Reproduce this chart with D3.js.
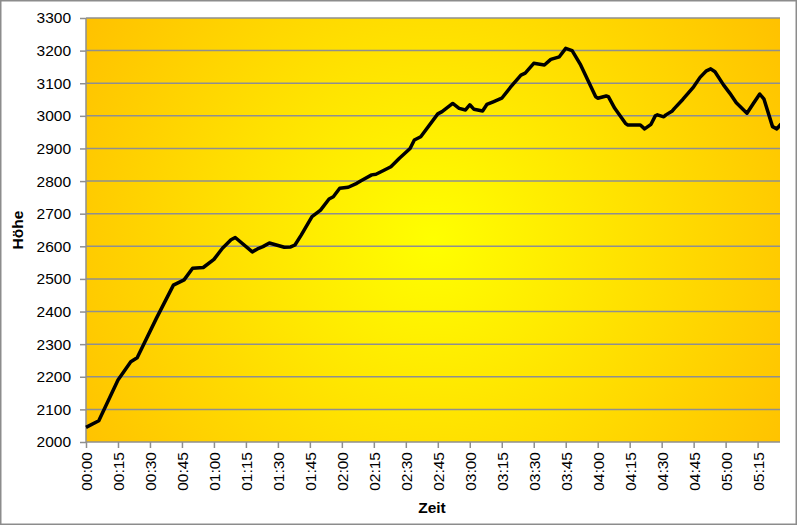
<!DOCTYPE html>
<html>
<head>
<meta charset="utf-8">
<script src="https://cdn.jsdelivr.net/npm/d3@7"></script>
<style>
  body { margin: 0; background: #fff; }
  svg { display: block; font-family: "Liberation Sans", Arial, sans-serif; }
</style>
</head>
<body>
<svg width="799" height="526"></svg>
<script>
// elevation track: minutes since start and height in metres
var minutes = [0, 6, 15, 21, 24, 33, 41, 46, 50, 55, 60, 64, 68, 70, 78, 81, 83, 86, 93, 96,
  98, 101, 106, 110, 114, 116, 119, 123, 127, 129, 134, 136, 140, 143, 147, 152, 154, 157, 165, 167,
  172, 175, 178, 180, 182, 186, 188, 191, 195, 199, 204, 206, 210, 215, 218, 222, 225, 228, 232, 239,
  240, 244, 245, 248, 253, 254, 260, 262, 265, 267, 268, 271, 272, 275, 276, 280, 285, 288, 291, 293,
  295, 299, 302, 305, 310, 313, 316, 318, 322, 324, 326];
var heights = [2045, 2065, 2190, 2246, 2258, 2379, 2481, 2497, 2533, 2535, 2560, 2594, 2620, 2627, 2583, 2594, 2599, 2610, 2597, 2598,
  2604, 2635, 2691, 2711, 2745, 2752, 2778, 2781, 2793, 2801, 2819, 2821, 2834, 2844, 2870, 2900, 2926, 2936, 3006, 3013,
  3038, 3023, 3018, 3034, 3020, 3015, 3035, 3043, 3054, 3087, 3125, 3131, 3161, 3156, 3173, 3181, 3207, 3200, 3156, 3059,
  3054, 3061, 3059, 3023, 2977, 2972, 2972, 2960, 2974, 3000, 3003, 2997, 3003, 3015, 3023, 3051, 3089, 3118, 3138, 3144,
  3135, 3095, 3069, 3040, 3008, 3038, 3067, 3051, 2967, 2960, 2975];
var yTicks = [2000, 2100, 2200, 2300, 2400, 2500, 2600, 2700, 2800, 2900, 3000, 3100, 3200, 3300];
var xTicks = [0, 15, 30, 45, 60, 75, 90, 105, 120, 135, 150, 165, 180, 195, 210, 225, 240, 255, 270, 285, 300, 315];

var data = minutes.map(function(m, i) { return {t: m, h: heights[i]}; });

var svg = d3.select("svg");
// plot area edges (window.top is taken, hence the prefix)
var pLeft = 86, pTop = 18, pRight = 780, pBottom = 442;

// outer frame
svg.append("rect")
    .attr("x", 0.75).attr("y", 0.75)
    .attr("width", 795.5).attr("height", 523.5)
    .style("fill", "white")
    .style("stroke", "#8c8c8c")
    .style("stroke-width", 1.5);

var x = d3.scaleLinear().domain([0, 325.5]).range([pLeft, pRight]);
var y = d3.scaleLinear().domain([2000, 3300]).range([pBottom, pTop]);

// plot background: yellow in the middle, orange towards the edges
var grad = svg.append("defs").append("radialGradient")
    .attr("id", "bg")
    .attr("gradientUnits", "userSpaceOnUse")
    .attr("cx", 433).attr("cy", 240).attr("r", 420);
grad.append("stop").attr("offset", "0%").attr("stop-color", "#ffff00");
grad.append("stop").attr("offset", "100%").attr("stop-color", "#ffc000");

svg.append("rect")
    .attr("x", pLeft).attr("y", pTop)
    .attr("width", pRight - pLeft).attr("height", pBottom - pTop)
    .style("fill", "url(#bg)");

// gridlines
svg.append("g").selectAll("line").data(yTicks.slice(1)).enter().append("line")
    .attr("x1", pLeft).attr("x2", pRight)
    .attr("y1", function(d) { return y(d); })
    .attr("y2", function(d) { return y(d); })
    .style("stroke", "#8f8f8f")
    .style("stroke-width", 1.5);

// y axis
var yAxis = svg.append("g")
    .attr("transform", "translate(" + pLeft + ",0)")
    .call(d3.axisLeft(y).tickValues(yTicks).tickSize(6).tickPadding(9).tickFormat(d3.format("d")));
yAxis.select(".domain").style("stroke", "#8f8f8f").style("stroke-width", 1.5).attr("d", "M0," + pTop + "V" + pBottom);
yAxis.selectAll(".tick line").style("stroke", "#8f8f8f").style("stroke-width", 1.5);
yAxis.selectAll("text").style("font-size", "15.5px").style("fill", "#000")
    .style("font-family", "'Liberation Sans', Arial, sans-serif");

// x axis
var fmt = function(m) { return d3.format("02d")(Math.floor(m / 60)) + ":" + d3.format("02d")(m % 60); };
var xAxis = svg.append("g")
    .attr("transform", "translate(0," + pBottom + ")")
    .call(d3.axisBottom(x).tickValues(xTicks).tickSize(6).tickFormat(fmt));
xAxis.select(".domain").style("stroke", "#8f8f8f").style("stroke-width", 1.5).attr("d", "M" + pLeft + ",0H" + pRight);
xAxis.selectAll(".tick line").style("stroke", "#8f8f8f").style("stroke-width", 1.5);
xAxis.selectAll("text")
    .attr("transform", "rotate(-90)")
    .attr("x", -10).attr("y", 0).attr("dy", "0.35em")
    .style("text-anchor", "end")
    .style("font-size", "15.5px").style("fill", "#000")
    .style("font-family", "'Liberation Sans', Arial, sans-serif");

// the elevation line
var line = d3.line()
    .x(function(d) { return x(d.t); })
    .y(function(d) { return y(d.h); });

svg.append("clipPath").attr("id", "clip").append("rect")
    .attr("x", pLeft - 3).attr("y", pTop)
    .attr("width", pRight - pLeft + 3).attr("height", pBottom - pTop + 3);

svg.append("path")
    .datum(data)
    .attr("clip-path", "url(#clip)")
    .attr("d", line)
    .style("fill", "none")
    .style("stroke", "#000")
    .style("stroke-width", 3.5)
    .style("stroke-linejoin", "round");

// axis titles
svg.append("text")
    .attr("transform", "translate(23," + ((pTop + pBottom) / 2) + ") rotate(-90)")
    .style("text-anchor", "middle")
    .style("font-size", "15.5px")
    .style("font-weight", "bold")
    .text("Höhe");

svg.append("text")
    .attr("x", (pLeft + pRight) / 2 - 1)
    .attr("y", 513)
    .style("text-anchor", "middle")
    .style("font-size", "15.5px")
    .style("font-weight", "bold")
    .text("Zeit");
</script>
</body>
</html>
